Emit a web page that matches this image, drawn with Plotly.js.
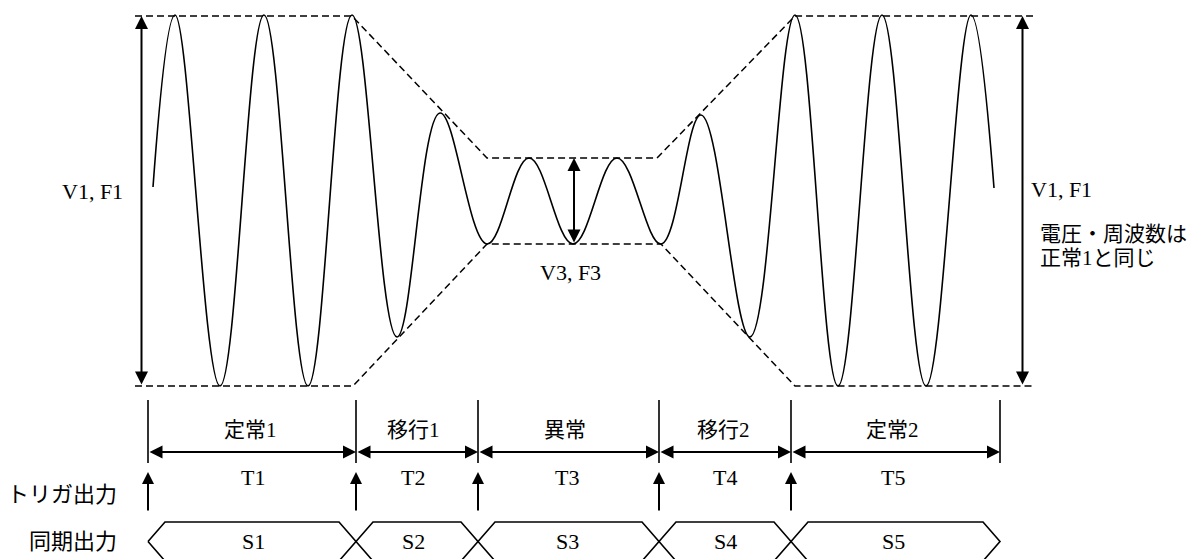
<!DOCTYPE html>
<html>
<head>
<meta charset="utf-8">
<script src="https://cdn.plot.ly/plotly-3.0.1.min.js"></script>
<style>html,body{margin:0;padding:0;background:#fff;}#chart{width:1193px;height:559px;}</style>
</head>
<body>
<div id="chart"></div>
<script>
// Waveform extrema (x position, level)
const waveX = [153, 175, 220, 264, 308, 352, 397, 440, 487, 529, 573, 617, 661, 701, 750, 795, 838, 882, 926, 971, 994];
const waveY = [187, 15, 386, 15, 386, 15, 337, 113, 244, 158, 244, 158, 244, 115, 337, 15, 386, 15, 386, 15, 188];

// Envelope (dashed) lines
const envTopX = [135, 352, 487, 657, 795, 1033];
const envTopY = [16, 16, 158, 158, 16, 16];
const envBotX = [135, 353, 487, 661, 795, 1033];
const envBotY = [386, 386, 244, 244, 386, 386];

// Time segment boundaries
const boundaries = [148, 356, 478, 659, 791, 1000];
const sectionLabels = ['定常1', '移行1', '異常', '移行2', '定常2'];
const sectionLabelX = [250, 413, 565, 723, 892];
const periodLabels = ['T1', 'T2', 'T3', 'T4', 'T5'];
const periodLabelX = [253, 413, 567, 725, 893];
const syncLabels = ['S1', 'S2', 'S3', 'S4', 'S5'];
const syncLabelX = [253, 413, 567, 725, 893];
const triggerX = [148, 356, 478, 659, 791];

const serif = '"Liberation Serif", "Times New Roman", "Noto Sans CJK JP", serif';
const jp = '"Liberation Serif", "Noto Sans CJK JP", serif';

(function () {
const traces = [];
traces.push({
  x: waveX, y: waveY, type: 'scatter', mode: 'lines',
  line: {color: '#000', width: 1.6, shape: 'spline', smoothing: 1.1},
  hoverinfo: 'skip'
});
traces.push({
  x: envTopX, y: envTopY, type: 'scatter', mode: 'lines',
  line: {color: '#000', width: 1.5, dash: '7px,4px'}, hoverinfo: 'skip'
});
traces.push({
  x: envBotX, y: envBotY, type: 'scatter', mode: 'lines',
  line: {color: '#000', width: 1.5, dash: '7px,4px'}, hoverinfo: 'skip'
});

// Boundary ticks
const tickX = [], tickY = [];
boundaries.forEach(b => { tickX.push(b, b, null); tickY.push(400, 463, null); });
traces.push({x: tickX, y: tickY, type: 'scatter', mode: 'lines',
  line: {color: '#000', width: 1.6}, hoverinfo: 'skip'});

// Sync output hexagons
const hexX = [], hexY = [];
const hMid = 541.5, hTop = 522, hBot = 561, slant = 17;
for (let i = 0; i < boundaries.length - 1; i++) {
  const a = boundaries[i], b = boundaries[i + 1];
  hexX.push(a, a + slant, b - slant, b, b - slant, a + slant, a, null);
  hexY.push(hMid, hTop, hTop, hMid, hBot, hBot, hMid, null);
}
traces.push({x: hexX, y: hexY, type: 'scatter', mode: 'lines',
  line: {color: '#000', width: 1.6}, hoverinfo: 'skip'});

const ann = [];
function arrow(x0, y0, x1, y1, both, size) {
  ann.push({
    x: x1, y: y1, ax: x0, ay: y0, xref: 'x', yref: 'y', axref: 'x', ayref: 'y',
    text: '', showarrow: true, arrowhead: 2, startarrowhead: 2,
    arrowside: both ? 'end+start' : 'end',
    arrowsize: size, startarrowsize: size, arrowwidth: 2, arrowcolor: '#000',
    standoff: 0, startstandoff: 0
  });
}
arrow(141.5, 386, 141.5, 16, true, 1.3);
arrow(1022.5, 386, 1022.5, 16, true, 1.3);
arrow(574, 244, 574, 158, true, 1.3);
for (let i = 0; i < boundaries.length - 1; i++) {
  arrow(boundaries[i], 452, boundaries[i + 1], 452, true, 1.3);
}
triggerX.forEach(x => arrow(x, 512, x, 472, false, 1.2));

function label(text, x, y, size, xanchor, family) {
  ann.push({x: x, y: y, xref: 'x', yref: 'y', text: text, showarrow: false,
    xanchor: xanchor || 'center', yanchor: 'middle',
    font: {family: family || serif, size: size, color: '#000'}});
}
label('V1, F1', 92, 191, 22);
label('V1, F1', 1029, 189, 22, 'left');
label('V3, F3', 570, 272, 22);
label('電圧・周波数は', 1038, 234, 21, 'left', jp);
label('正常1と同じ', 1038, 258, 21, 'left', jp);
sectionLabels.forEach((t, i) => label(t, sectionLabelX[i], 430, 21, 'center', jp));
periodLabels.forEach((t, i) => label(t, periodLabelX[i], 477, 22));
syncLabels.forEach((t, i) => label(t, syncLabelX[i], 541, 22));
label('トリガ出力', 119, 494, 22, 'right', jp);
label('同期出力', 119, 541, 22, 'right', jp);

const layout = {
  width: 1193, height: 559,
  margin: {l: 0, r: 0, t: 0, b: 0},
  paper_bgcolor: '#fff', plot_bgcolor: '#fff',
  showlegend: false,
  xaxis: {range: [0, 1193], visible: false, fixedrange: true},
  yaxis: {range: [559, 0], visible: false, fixedrange: true},
  annotations: ann
};
Plotly.newPlot('chart', traces, layout, {staticPlot: true, displayModeBar: false});
})();
</script>
</body>
</html>
